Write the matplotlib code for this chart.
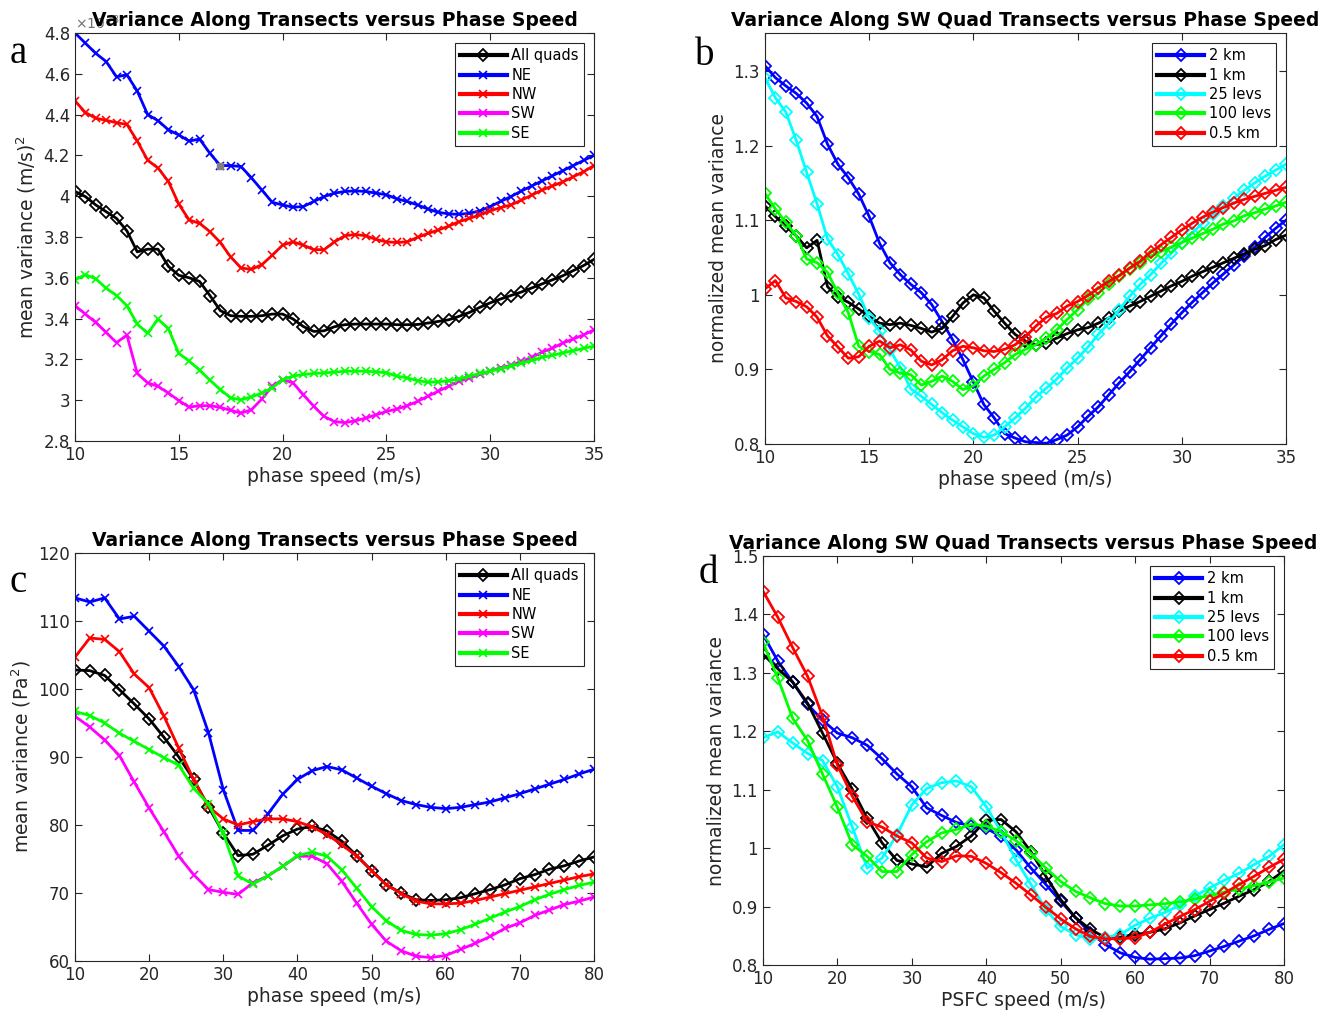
import numpy as np
import matplotlib
matplotlib.use('Agg')
import matplotlib.pyplot as plt
from matplotlib.ticker import FuncFormatter


# Phase speed grids (m/s)
speed_fine = np.arange(10, 35.01, 0.5)
speed_coarse = np.arange(10, 80.01, 2)

# Panel a: mean wind variance by quadrant, (m/s)^2 x 1e-3
var_all_a = [4.023, 3.998, 3.957, 3.924, 3.891, 3.830, 3.727, 3.740, 3.740, 3.656,
             3.612, 3.600, 3.582, 3.513, 3.439, 3.414, 3.411, 3.411, 3.414, 3.422,
             3.422, 3.398, 3.361, 3.337, 3.340, 3.360, 3.370, 3.373, 3.373, 3.373,
             3.373, 3.370, 3.370, 3.371, 3.378, 3.386, 3.394, 3.411, 3.430, 3.455,
             3.477, 3.496, 3.513, 3.530, 3.550, 3.570, 3.590, 3.610, 3.635, 3.660,
             3.690]
var_ne_a = [4.800, 4.750, 4.700, 4.660, 4.585, 4.595, 4.515, 4.400, 4.370, 4.325,
            4.300, 4.270, 4.280, 4.210, 4.150, 4.150, 4.145, 4.090, 4.030, 3.970,
            3.957, 3.946, 3.949, 3.974, 3.998, 4.015, 4.023, 4.026, 4.023, 4.015,
            4.007, 3.987, 3.974, 3.957, 3.937, 3.921, 3.913, 3.911, 3.916, 3.928,
            3.949, 3.974, 3.998, 4.025, 4.050, 4.075, 4.100, 4.125, 4.150, 4.175,
            4.200]
var_nw_a = [4.467, 4.410, 4.382, 4.372, 4.360, 4.352, 4.270, 4.176, 4.138, 4.072,
            3.961, 3.883, 3.867, 3.826, 3.773, 3.702, 3.648, 3.641, 3.664, 3.710,
            3.760, 3.776, 3.760, 3.738, 3.738, 3.776, 3.806, 3.812, 3.806, 3.788,
            3.776, 3.773, 3.776, 3.798, 3.817, 3.834, 3.853, 3.875, 3.891, 3.908,
            3.928, 3.944, 3.957, 3.980, 4.005, 4.030, 4.050, 4.070, 4.095, 4.120,
            4.150]
var_sw_a = [3.463, 3.422, 3.381, 3.332, 3.282, 3.319, 3.131, 3.085, 3.068, 3.035,
            2.998, 2.966, 2.973, 2.973, 2.965, 2.950, 2.937, 2.953, 3.006, 3.068,
            3.101, 3.085, 3.027, 2.970, 2.920, 2.895, 2.890, 2.899, 2.912, 2.928,
            2.945, 2.956, 2.973, 2.994, 3.019, 3.044, 3.068, 3.093, 3.109, 3.126,
            3.142, 3.159, 3.170, 3.190, 3.210, 3.235, 3.255, 3.280, 3.300, 3.320,
            3.345]
var_se_a = [3.590, 3.615, 3.595, 3.549, 3.513, 3.463, 3.373, 3.328, 3.397, 3.351,
            3.229, 3.192, 3.147, 3.098, 3.052, 3.011, 3.002, 3.016, 3.035, 3.060,
            3.101, 3.118, 3.126, 3.131, 3.134, 3.137, 3.142, 3.142, 3.142, 3.139,
            3.134, 3.118, 3.109, 3.096, 3.088, 3.090, 3.096, 3.104, 3.118, 3.131,
            3.142, 3.154, 3.167, 3.180, 3.195, 3.210, 3.220, 3.232, 3.243, 3.254,
            3.265]
tip_speed = [17.0]
tip_value = [4.15]

# Panel b: normalized SW variance by resolution
norm_2km_b = [1.307, 1.291, 1.280, 1.270, 1.257, 1.239, 1.202, 1.175, 1.157, 1.135,
              1.105, 1.069, 1.043, 1.027, 1.014, 1.003, 0.987, 0.964, 0.940, 0.913,
              0.883, 0.853, 0.835, 0.814, 0.808, 0.803, 0.802, 0.801, 0.806, 0.812,
              0.823, 0.837, 0.850, 0.866, 0.882, 0.897, 0.913, 0.929, 0.945, 0.961,
              0.976, 0.990, 1.003, 1.016, 1.028, 1.040, 1.052, 1.064, 1.077, 1.089,
              1.100]
norm_1km_b = [1.119, 1.105, 1.092, 1.079, 1.063, 1.073, 1.011, 0.997, 0.990, 0.981,
              0.971, 0.962, 0.960, 0.962, 0.959, 0.955, 0.950, 0.955, 0.971, 0.989,
              1.000, 0.996, 0.978, 0.962, 0.947, 0.938, 0.933, 0.936, 0.942, 0.948,
              0.953, 0.956, 0.962, 0.969, 0.978, 0.985, 0.991, 0.998, 1.005, 1.012,
              1.018, 1.025, 1.031, 1.037, 1.043, 1.049, 1.055, 1.061, 1.066, 1.074,
              1.080]
norm_25lev_b = [1.291, 1.264, 1.245, 1.207, 1.164, 1.122, 1.075, 1.054, 1.028, 1.001,
                0.969, 0.951, 0.926, 0.902, 0.874, 0.864, 0.853, 0.842, 0.832, 0.823,
                0.814, 0.809, 0.812, 0.823, 0.835, 0.848, 0.863, 0.875, 0.887, 0.902,
                0.915, 0.930, 0.947, 0.962, 0.980, 0.998, 1.014, 1.027, 1.042, 1.056,
                1.070, 1.083, 1.096, 1.108, 1.119, 1.130, 1.140, 1.150, 1.159, 1.167,
                1.175]
norm_100lev_b = [1.136, 1.115, 1.097, 1.079, 1.048, 1.043, 1.030, 1.002, 0.976, 0.931,
                 0.924, 0.920, 0.900, 0.895, 0.893, 0.879, 0.884, 0.891, 0.884, 0.873,
                 0.878, 0.891, 0.900, 0.909, 0.920, 0.927, 0.933, 0.942, 0.953, 0.967,
                 0.980, 0.994, 1.002, 1.015, 1.025, 1.035, 1.043, 1.052, 1.058, 1.064,
                 1.070, 1.076, 1.082, 1.088, 1.095, 1.099, 1.106, 1.110, 1.115, 1.119,
                 1.124]
norm_05km_b = [1.008, 1.019, 0.996, 0.991, 0.984, 0.970, 0.945, 0.930, 0.915, 0.917,
               0.931, 0.938, 0.929, 0.933, 0.926, 0.911, 0.906, 0.913, 0.925, 0.931,
               0.929, 0.925, 0.924, 0.927, 0.933, 0.944, 0.958, 0.970, 0.975, 0.985,
               0.991, 0.999, 1.009, 1.018, 1.026, 1.036, 1.045, 1.057, 1.067, 1.077,
               1.087, 1.096, 1.104, 1.111, 1.117, 1.123, 1.128, 1.132, 1.136, 1.140,
               1.144]

# Panel c: mean surface pressure variance by quadrant (Pa^2)
var_all_c = [102.8, 102.7, 102.0, 99.9, 97.8, 95.6, 92.9, 90.0, 86.7, 82.7,
             78.8, 75.5, 75.7, 77.0, 78.4, 79.4, 79.8, 79.1, 77.6, 75.5,
             73.3, 71.2, 70.0, 69.0, 68.9, 69.0, 69.3, 69.9, 70.5, 71.2,
             72.1, 72.7, 73.5, 74.0, 74.7, 75.3]
var_ne_c = [113.4, 112.8, 113.4, 110.3, 110.7, 108.5, 106.3, 103.3, 99.9, 93.6,
            85.2, 79.2, 79.2, 81.6, 84.5, 86.7, 88.0, 88.6, 88.1, 86.9,
            85.7, 84.6, 83.6, 83.0, 82.6, 82.4, 82.6, 83.0, 83.4, 84.0,
            84.6, 85.3, 86.0, 86.7, 87.5, 88.2]
var_nw_c = [104.7, 107.5, 107.3, 105.5, 102.2, 100.2, 96.0, 91.3, 86.7, 82.7,
            80.9, 80.0, 80.5, 80.9, 80.9, 80.5, 79.7, 78.6, 77.1, 75.4,
            73.3, 71.2, 69.9, 68.8, 68.4, 68.4, 68.5, 68.9, 69.4, 69.9,
            70.4, 70.9, 71.4, 71.9, 72.4, 72.8]
var_sw_c = [96.0, 94.4, 92.5, 90.2, 86.3, 82.5, 79.0, 75.4, 72.7, 70.5,
            70.1, 69.8, 71.5, 72.5, 73.9, 75.4, 75.4, 74.3, 71.7, 68.5,
            65.4, 62.9, 61.5, 60.7, 60.5, 60.8, 61.7, 62.6, 63.6, 64.8,
            65.6, 66.7, 67.5, 68.3, 68.8, 69.4]
var_se_c = [96.7, 96.1, 95.0, 93.5, 92.3, 91.1, 89.9, 88.8, 85.4, 83.1,
            78.8, 72.5, 71.3, 72.5, 73.9, 75.5, 76.0, 75.4, 73.4, 70.7,
            68.0, 65.9, 64.5, 63.9, 63.8, 64.0, 64.6, 65.4, 66.3, 67.2,
            68.0, 69.0, 69.8, 70.5, 71.1, 71.6]

# Panel d: normalized SW surface pressure variance by resolution
norm_2km_d = [1.366, 1.320, 1.284, 1.246, 1.219, 1.197, 1.189, 1.176, 1.153, 1.127,
              1.105, 1.069, 1.056, 1.044, 1.038, 1.034, 1.020, 0.997, 0.966, 0.938,
              0.909, 0.881, 0.855, 0.835, 0.821, 0.813, 0.810, 0.811, 0.812, 0.816,
              0.824, 0.832, 0.841, 0.850, 0.861, 0.871]
norm_1km_d = [1.332, 1.307, 1.284, 1.248, 1.197, 1.145, 1.101, 1.051, 1.009, 0.979,
              0.973, 0.968, 0.991, 1.003, 1.021, 1.048, 1.049, 1.028, 0.994, 0.952,
              0.912, 0.881, 0.861, 0.847, 0.848, 0.852, 0.856, 0.862, 0.872, 0.884,
              0.895, 0.906, 0.918, 0.929, 0.943, 0.961]
norm_25lev_d = [1.189, 1.199, 1.180, 1.162, 1.150, 1.105, 1.036, 0.966, 0.983, 1.023,
                1.074, 1.102, 1.112, 1.115, 1.105, 1.071, 1.028, 0.980, 0.938, 0.895,
                0.866, 0.852, 0.844, 0.847, 0.852, 0.868, 0.880, 0.890, 0.902, 0.918,
                0.932, 0.945, 0.957, 0.972, 0.986, 1.006]
norm_100lev_d = [1.352, 1.291, 1.222, 1.184, 1.127, 1.070, 1.006, 0.986, 0.960, 0.960,
                 0.989, 1.011, 1.026, 1.032, 1.041, 1.038, 1.028, 1.013, 0.991, 0.966,
                 0.943, 0.926, 0.915, 0.905, 0.901, 0.901, 0.903, 0.905, 0.908, 0.913,
                 0.919, 0.925, 0.930, 0.936, 0.942, 0.949]
norm_05km_d = [1.440, 1.395, 1.343, 1.294, 1.226, 1.142, 1.089, 1.045, 1.036, 1.021,
               1.009, 0.983, 0.977, 0.987, 0.986, 0.974, 0.958, 0.940, 0.920, 0.899,
               0.879, 0.862, 0.849, 0.845, 0.845, 0.847, 0.856, 0.870, 0.883, 0.895,
               0.909, 0.923, 0.938, 0.952, 0.967, 0.981]

quad_labels = ['All quads', 'NE', 'NW', 'SW', 'SE']
quad_colors = ['black', '#0000ff', '#ff0000', '#ff00ff', '#00ff00']
quad_markers = ['D', 'x', 'x', 'x', 'x']
res_labels = ['2 km', '1 km', '25 levs', '100 levs', '0.5 km']
res_colors = ['#0000ff', 'black', '#00ffff', '#00ff00', '#ff0000']

EDGE = '#262626'

plt.rcParams['font.family'] = ['DejaVu Sans']
plt.rcParams['axes.edgecolor'] = EDGE
plt.rcParams['axes.linewidth'] = 0.8
plt.rcParams['xtick.direction'] = 'in'
plt.rcParams['ytick.direction'] = 'in'
plt.rcParams['xtick.top'] = True
plt.rcParams['ytick.right'] = True
plt.rcParams['xtick.major.size'] = 5
plt.rcParams['ytick.major.size'] = 5
plt.rcParams['xtick.color'] = EDGE
plt.rcParams['ytick.color'] = EDGE
plt.rcParams['xtick.labelsize'] = 12
plt.rcParams['ytick.labelsize'] = 12


def style_axes(ax, xlim, xticks, ylim, yticks, xlabel, ylabel, title):
    """Apply MATLAB-like limits, ticks, labels and title to one panel."""
    ax.set_xlim(*xlim)
    ax.set_ylim(*ylim)
    ax.set_xticks(xticks)
    ax.set_yticks(yticks)
    fmt = FuncFormatter(lambda v, pos: '%g' % round(v, 4))
    ax.xaxis.set_major_formatter(fmt)
    ax.yaxis.set_major_formatter(fmt)
    ax.set_xlabel(xlabel, fontsize=13.5, color=EDGE, labelpad=2)
    ax.set_ylabel(ylabel, fontsize=13.5, color=EDGE, labelpad=4)
    ax.set_title(title, fontsize=13.5, fontweight='bold', pad=5)


def add_legend(ax):
    leg = ax.legend(loc='upper right', fontsize=10.5, fancybox=False,
                    framealpha=1, edgecolor=EDGE, handlelength=3.2,
                    borderpad=0.35, labelspacing=0.3, handletextpad=0.3,
                    borderaxespad=0.7)
    leg.get_frame().set_linewidth(0.8)
    for line in leg.get_lines():
        line.set_linewidth(3)


def plot_quads(ax, speed, series):
    for vals, lab, col, mk in zip(series, quad_labels, quad_colors,
                                  quad_markers):
        if mk == 'D':
            ax.plot(speed, vals, color=col, lw=2, marker='D', ms=6,
                    mfc='none', mew=1.3, label=lab)
        else:
            ax.plot(speed, vals, color=col, lw=2, marker='x', ms=6,
                    mew=1.2, label=lab)


def plot_resolutions(ax, speed, series):
    for vals, lab, col in zip(series, res_labels, res_colors):
        ax.plot(speed, vals, color=col, lw=2, marker='D', ms=6,
                mfc='none', mew=1.3, label=lab)


def main():
    fig = plt.figure(figsize=(13.39, 10.17), dpi=100)

    # Panel a
    ax_a = fig.add_axes([0.056, 0.5664, 0.3876, 0.4012])
    plot_quads(ax_a, speed_fine,
               [var_all_a, var_ne_a, var_nw_a, var_sw_a, var_se_a])
    ax_a.plot(tip_speed, tip_value, 's', color='#808080', ms=4, zorder=5)
    style_axes(ax_a, (10, 35), [10, 15, 20, 25, 30, 35], (2.8, 4.8),
               np.arange(2.8, 4.81, 0.2), 'phase speed (m/s)',
               'mean variance (m/s)$^2$',
               'Variance Along Transects versus Phase Speed')
    ax_a.text(0.0, 1.003, r'$\times10^{-3}$', transform=ax_a.transAxes,
              fontsize=10, color='#707070', ha='left', va='bottom')
    add_legend(ax_a)

    # Panel b
    ax_b = fig.add_axes([0.5713, 0.5634, 0.3891, 0.4042])
    plot_resolutions(ax_b, speed_fine,
                     [norm_2km_b, norm_1km_b, norm_25lev_b, norm_100lev_b,
                      norm_05km_b])
    style_axes(ax_b, (10, 35), [10, 15, 20, 25, 30, 35], (0.8, 1.351),
               [0.8, 0.9, 1.0, 1.1, 1.2, 1.3], 'phase speed (m/s)',
               'normalized mean variance',
               'Variance Along SW Quad Transects versus Phase Speed')
    add_legend(ax_b)

    # Panel c
    ax_c = fig.add_axes([0.056, 0.0551, 0.3876, 0.4011])
    plot_quads(ax_c, speed_coarse,
               [var_all_c, var_ne_c, var_nw_c, var_sw_c, var_se_c])
    style_axes(ax_c, (10, 80), np.arange(10, 81, 10), (60, 120),
               np.arange(60, 121, 10), 'phase speed (m/s)',
               'mean variance (Pa$^2$)',
               'Variance Along Transects versus Phase Speed')
    add_legend(ax_c)

    # Panel d
    ax_d = fig.add_axes([0.5698, 0.0511, 0.3891, 0.4022])
    plot_resolutions(ax_d, speed_coarse,
                     [norm_2km_d, norm_1km_d, norm_25lev_d, norm_100lev_d,
                      norm_05km_d])
    style_axes(ax_d, (10, 80), np.arange(10, 81, 10), (0.8, 1.5),
               np.arange(0.8, 1.51, 0.1), 'PSFC speed (m/s)',
               'normalized mean variance',
               'Variance Along SW Quad Transects versus Phase Speed')
    add_legend(ax_d)

    # Panel letters
    for x, y, letter in [(0.007, 0.938, 'a'), (0.519, 0.936, 'b'),
                         (0.007, 0.418, 'c'), (0.522, 0.427, 'd')]:
        fig.text(x, y, letter, fontsize=28, family='Liberation Serif',
                 ha='left', va='baseline')

    fig.savefig('out.png', dpi=100)


if __name__ == '__main__':
    main()
